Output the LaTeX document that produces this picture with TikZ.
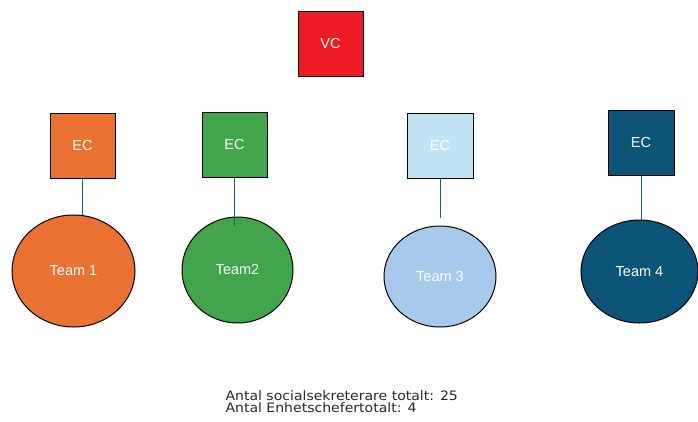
\documentclass[tikz,border=0pt]{standalone}
\usepackage{fontspec}
\setmainfont{Liberation Sans}
\newfontfamily\notefont[FakeStretch=1.08]{DejaVu Sans}
\usetikzlibrary{shapes.geometric}

\definecolor{vcred}{RGB}{237,28,36}
\definecolor{teamorange}{RGB}{233,113,50}
\definecolor{teamgreen}{RGB}{66,165,75}
\definecolor{eclight}{RGB}{193,228,245}
\definecolor{teamlight}{RGB}{166,201,236}
\definecolor{teamdark}{RGB}{11,84,120}
\definecolor{linkblue}{RGB}{21,96,130}
\definecolor{notegray}{RGB}{40,40,40}

\tikzset{every picture/.style={line width=1pt},
  ecbox/.style={draw=black, rectangle, minimum width=65pt, minimum height=65pt, inner sep=0pt, text=white, font=\fontsize{14.5}{16}\selectfont},
  teamblob/.style={draw=black, ellipse, inner sep=0pt, text=white, font=\fontsize{14.5}{16}\selectfont},
  link/.style={draw=linkblue, line width=1pt},
  notetext/.style={anchor=base west, inner sep=0pt, text=notegray, font=\notefont\fontsize{13}{13}\selectfont}}

\begin{document}
\begin{tikzpicture}[x=1pt,y=1pt,yscale=-1,xscale=1]
	\useasboundingbox (0,0) rectangle (698,421);

	%Shape: Square [id:vc] 
	\node[ecbox, fill=vcred] (vc) at (330.5,43.5) {VC};

	%Shape: Square [id:ec1..ec4] 
	\node[ecbox, fill=teamorange] (ec1) at (82.5,145.5) {EC};
	\node[ecbox, fill=teamgreen] (ec2) at (234.5,144.5) {EC};
	\node[ecbox, fill=eclight, minimum width=66pt] (ec3) at (440,145.5) {EC};
	\node[ecbox, fill=teamdark, minimum width=66pt] (ec4) at (641,143) {EC};

	%Shape: Ellipse [id:team1..team4] 
	\node[teamblob, fill=teamorange, minimum width=123pt, minimum height=112pt] (team1) at (73.5,271) {Team 1};
	\node[teamblob, fill=teamgreen, minimum width=111pt, minimum height=106pt] (team2) at (237.5,270) {Team2};
	\node[teamblob, fill=teamlight, minimum width=112pt, minimum height=101pt] (team3) at (440,276.5) {Team 3};
	\node[teamblob, fill=teamdark, minimum width=117pt, minimum height=103pt] (team4) at (639.5,271.5) {Team 4};

	%Straight Lines [id:links] 
	\coordinate (end2) at (234.5,226);
	\coordinate (end3) at (440,218);
	\draw[link] (ec1.south) -- (ec1.south |- team1.north);
	\draw[link] (ec2.south) -- (end2);
	\draw[link] (ec3.south) -- (end3);
	\draw[link] (ec4.south) -- (ec4.south |- team4.north);

	% Text Node
	\node[notetext] (total1) at (225,400) {Antal socialsekreterare totalt: 25};
	% Text Node
	\node[notetext] (total2) at (225,412.5) {Antal Enhetschefertotalt: 4};

\end{tikzpicture}
\end{document}
